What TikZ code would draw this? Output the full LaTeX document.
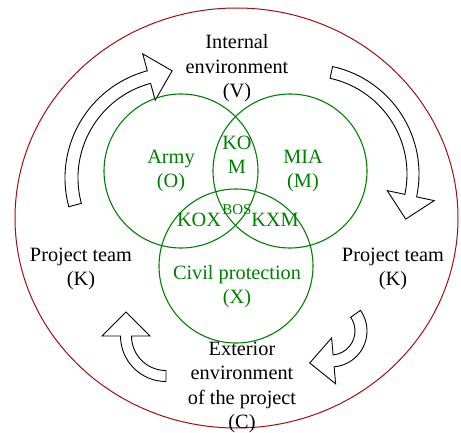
\documentclass[tikz,border=0pt]{standalone}
\usepackage{fontspec}
\setmainfont{Liberation Serif}
\usetikzlibrary{calc}
\definecolor{venngreen}{RGB}{0,128,0}
\definecolor{rimred}{RGB}{160,16,16}

\newcommand{\blockarc}[7]{%
  \pgfmathsetmacro{\arcout}{#2+#3}%
  \pgfmathsetmacro{\arcin}{#2-#3}%
  \pgfmathsetmacro{\headout}{#2+#6}%
  \pgfmathsetmacro{\headin}{#2-#6}%
  \draw[curvearrow] ($(#1)+(#4:\arcout)$) arc[start angle=#4, end angle=#5, radius=\arcout pt]
    -- ($(#1)+(#5:\headout)$) -- ($(#1)+(#5:#2)+(#5-90:#7)$) -- ($(#1)+(#5:\headin)$)
    -- ($(#1)+(#5:\arcin)$) arc[start angle=#5, end angle=#4, radius=\arcin pt] -- cycle;
}

\begin{document}
\begin{tikzpicture}[x=1pt, y=1pt, font=\fontsize{20.3}{24.4}\selectfont]
    \tikzstyle{rim}        = [draw=rimred, line width=1pt]
    \tikzstyle{venn}       = [draw=venngreen, line width=1.1pt]
    \tikzstyle{curvearrow} = [draw=black, fill=white, line width=0.9pt, line join=miter]
    \tikzstyle{blacktext}  = [align=center, inner sep=0pt, text=black]
    \tikzstyle{greentext}  = [align=center, inner sep=0pt, text=venngreen]

    \useasboundingbox (0,0) rectangle (461,432);

    \coordinate (rimc) at (236.5,214);
    \coordinate (army) at (181,261);
    \coordinate (mia)  at (290,261);
    \coordinate (civ)  at (236,166);
    \coordinate (arcTL) at (176,254);
    \coordinate (arcTR) at (309,258);
    \coordinate (arcBR) at (331,101);
    \coordinate (arcBL) at (166,96);

    \draw [rim] (rimc) ellipse [x radius=221.5pt, y radius=210pt];

    \blockarc{arcTL}{104.5}{6.5}{195}{105}{24}{24}
    \blockarc{arcTR}{104}{6}{77.6}{-12}{24}{24}
    \blockarc{arcBR}{30}{6}{35}{-85}{23}{24}
    \blockarc{arcBL}{40}{5.5}{270}{180}{24}{24}

    \draw [venn] (army) circle [radius=77pt];
    \draw [venn] (mia)  circle [radius=77pt];
    \draw [venn] (civ)  circle [radius=77pt];

    \node [blacktext] (inner) at (237,363.5) {Internal\\environment\\(V)};
    \node [blacktext] (teamL) at (81,163) {Project team\\(K)};
    \node [blacktext] (teamR) at (393,163) {Project team\\(K)};
    \node [blacktext] (outer) at (242,44.5) {Exterior\\environment\\of the project\\(C)};

    \node [greentext] (armyt) at (171,261) {Army\\(O)};
    \node [greentext] (miat)  at (303,261) {MIA\\(M)};
    \node [greentext] (kom)   at (237,277.5) {KO\\M};
    \node [greentext, font=\fontsize{15}{17}\selectfont] (bos) at (237,222) {BOS};
    \node [greentext] (kox)   at (199,212) {KOX};
    \node [greentext] (kxm)   at (275,212) {KXM};
    \node [greentext] (civt)  at (237,145.5) {Civil protection\\(X)};
\end{tikzpicture}
\end{document}
